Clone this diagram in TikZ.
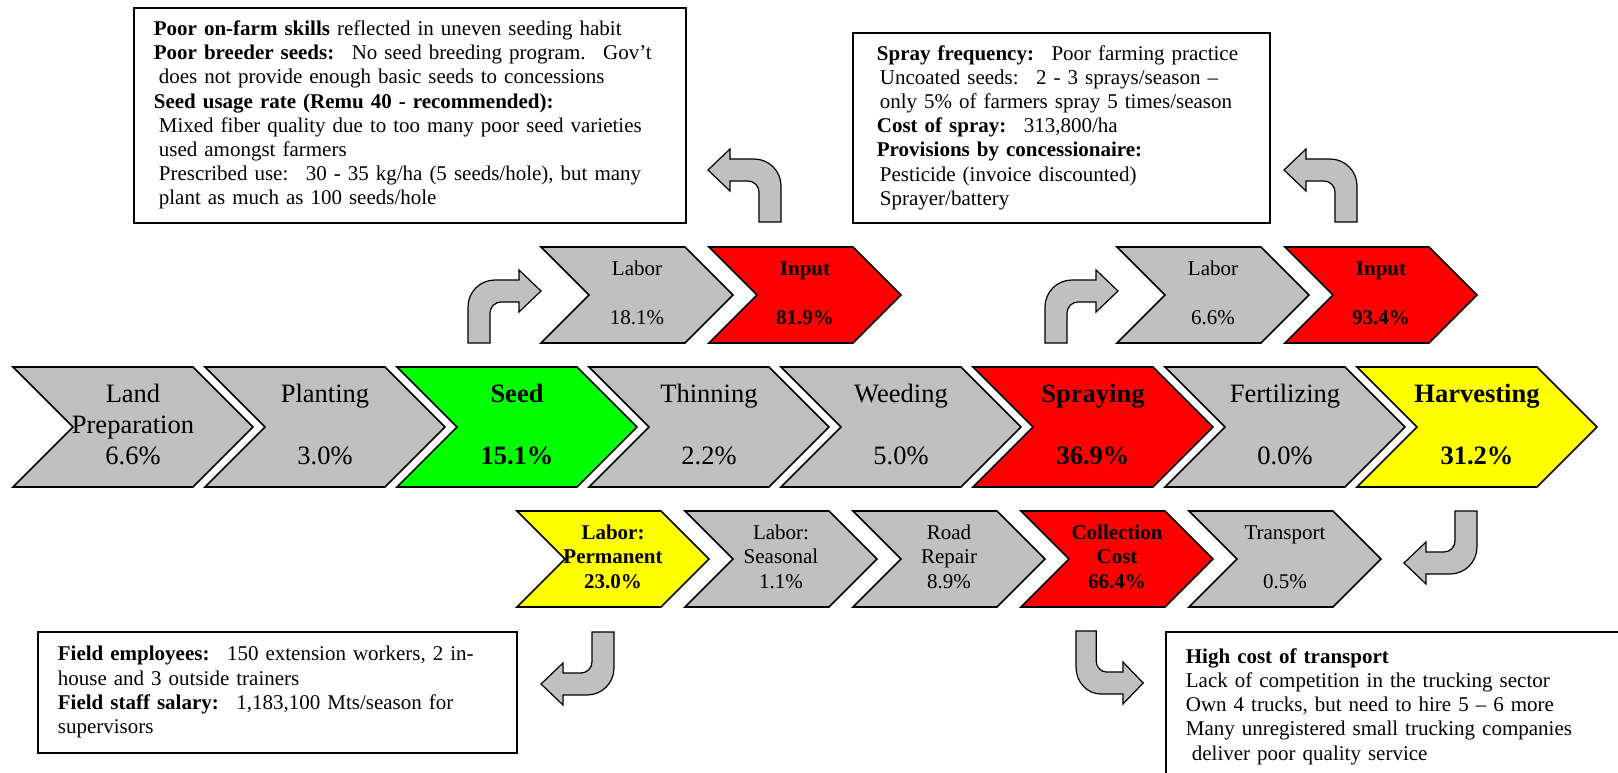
\documentclass[tikz,border=0pt]{standalone}
\usepackage{fontspec}
\setmainfont{Liberation Serif}

\definecolor{stepgray}{RGB}{192,192,192}
\definecolor{stepred}{RGB}{255,0,0}
\definecolor{stepgreen}{RGB}{0,255,0}
\definecolor{stepyellow}{RGB}{255,255,0}

\newcommand{\three}[3]{\strut#1\\\strut#2\\\strut#3}
% fill, name, left x, top y, width, height, text style, text
\newcommand{\chevbox}[8]{%
  \draw[chevline, fill=#1] (#3,#4) -- ++({#5-#6/2},0) -- ++({#6/2},{#6/2})
    -- ++({-#6/2},{#6/2}) -- ++({-#5+#6/2},0) -- ++({#6/2},{-#6/2}) -- cycle;
  \node[#7] (#2) at ({#3+#5/2},{#4+#6/2}) {#8};
}

\tikzset{
  chevline/.style={draw, line width=1.6pt, line join=miter},
  bigtext/.style={font=\fontsize{26.5}{31}\selectfont, align=center, inner sep=0pt},
  bigbold/.style={bigtext, font=\fontsize{26.5}{31}\selectfont\bfseries},
  smalltext/.style={font=\fontsize{21}{24.5}\selectfont, align=center, inner sep=0pt},
  smallbold/.style={smalltext, font=\fontsize{21}{24.5}\selectfont\bfseries},
  note/.style={draw, line width=1.8pt, anchor=north west, align=left,
    inner xsep=20pt, inner ysep=0pt, font=\fontsize{21}{24.2}\selectfont},
  turnarrow/.style={draw, fill=stepgray, line width=1.2pt, line join=miter},
  bentarrow/.pic={
    \draw[turnarrow] (0,0) -- (0,-36) .. controls (0,-51) and (12,-63) .. (27,-63)
      -- (51,-63) -- (51,-73) -- (73,-52) -- (51,-31) -- (51,-41) -- (33,-41)
      .. controls (27,-41) and (22,-36) .. (22,-30) -- (22,0) -- cycle;
  }
}

\begin{document}
\begin{tikzpicture}[x=1pt, y=-1pt]
  \useasboundingbox (0,0) rectangle (1618,773);
  \fill[white] (0,0) rectangle (1618,773);
  \clip (0,0) rectangle (1618,773);

  \chevbox{stepgray}{landprep}{13}{367}{240}{120}{bigtext}{\three{Land}{Preparation}{6.6\%}}
  \chevbox{stepgray}{planting}{205}{367}{240}{120}{bigtext}{\three{Planting}{}{3.0\%}}
  \chevbox{stepgreen}{seed}{397}{367}{240}{120}{bigbold}{\three{Seed}{}{15.1\%}}
  \chevbox{stepgray}{thinning}{589}{367}{240}{120}{bigtext}{\three{Thinning}{}{2.2\%}}
  \chevbox{stepgray}{weeding}{781}{367}{240}{120}{bigtext}{\three{Weeding}{}{5.0\%}}
  \chevbox{stepred}{spraying}{973}{367}{240}{120}{bigbold}{\three{Spraying}{}{36.9\%}}
  \chevbox{stepgray}{fertilizing}{1165}{367}{240}{120}{bigtext}{\three{Fertilizing}{}{0.0\%}}
  \chevbox{stepyellow}{harvesting}{1357}{367}{240}{120}{bigbold}{\three{Harvesting}{}{31.2\%}}

  \chevbox{stepgray}{seedlabor}{541}{247}{192}{96}{smalltext}{\three{Labor}{}{18.1\%}}
  \chevbox{stepred}{seedinput}{709}{247}{192}{96}{smallbold}{\three{Input}{}{81.9\%}}
  \chevbox{stepgray}{spraylabor}{1117}{247}{192}{96}{smalltext}{\three{Labor}{}{6.6\%}}
  \chevbox{stepred}{sprayinput}{1285}{247}{192}{96}{smallbold}{\three{Input}{}{93.4\%}}

  \chevbox{stepyellow}{permlabor}{517}{511}{192}{96}{smallbold}{\three{Labor:}{Permanent}{23.0\%}}
  \chevbox{stepgray}{seaslabor}{685}{511}{192}{96}{smalltext}{\three{Labor:}{Seasonal}{1.1\%}}
  \chevbox{stepgray}{roadrepair}{853}{511}{192}{96}{smalltext}{\three{Road}{Repair}{8.9\%}}
  \chevbox{stepred}{collection}{1021}{511}{192}{96}{smallbold}{\three{Collection}{Cost}{66.4\%}}
  \chevbox{stepgray}{transport}{1189}{511}{192}{96}{smalltext}{\three{Transport}{}{0.5\%}}

  \pic (seedup) at (468,343) {bentarrow};
  \pic (sprayup) at (1045,343) {bentarrow};
  \pic[xscale=-1] (seedout) at (781,222) {bentarrow};
  \pic[xscale=-1] (sprayout) at (1357,222) {bentarrow};
  \pic[xscale=-1, yscale=-1] (harvdown) at (1477,511) {bentarrow};
  \pic[xscale=-1, yscale=-1] (permout) at (614,632) {bentarrow};
  \pic[xscale=0.92, yscale=-1] (collout) at (1076,631) {bentarrow};

  \node[note, text width=512pt, minimum height=215pt] (seednote) at (133,7) {%
    \strut\textbf{Poor on-farm skills} reflected in uneven seeding habit\\
    \textbf{Poor breeder seeds:}~ No seed breeding program.~ Gov’t\\
    \hspace*{5pt}does not provide enough basic seeds to concessions\\
    \textbf{Seed usage rate (Remu 40 - recommended):}\\
    \hspace*{5pt}Mixed fiber quality due to too many poor seed varieties\\
    \hspace*{5pt}used amongst farmers\\
    \hspace*{5pt}Prescribed use:~ 30 - 35 kg/ha (5 seeds/hole), but many\\
    \hspace*{5pt}plant as much as 100 seeds/hole\strut};
  \node[note, text width=369pt, minimum height=190pt, inner xsep=24pt] (spraynote) at (852,32) {%
    \strut\textbf{Spray frequency:}~ Poor farming practice\\
    \hspace*{3pt}Uncoated seeds:~ 2 - 3 sprays/season --\\
    \hspace*{3pt}only 5\% of farmers spray 5 times/season\\
    \textbf{Cost of spray:}~ 313,800/ha\\
    \textbf{Provisions by concessionaire:}\\
    \hspace*{3pt}Pesticide (invoice discounted)\\
    \hspace*{3pt}Sprayer/battery\strut};
  \node[note, text width=439pt, minimum height=121pt] (staffnote) at (37,631) {%
    \strut\textbf{Field employees:}~ 150 extension workers, 2 in-\\
    house and 3 outside trainers\\
    \textbf{Field staff salary:}~ 1,183,100 Mts/season for\\
    supervisors\strut};
  \node[note, text width=440pt, minimum height=150pt] (transnote) at (1165,631) {%
    \strut\textbf{High cost of transport}\\
    Lack of competition in the trucking sector\\
    Own 4 trucks, but need to hire 5 -- 6 more\\
    Many unregistered small trucking companies\\
    \hspace*{6pt}deliver poor quality service\strut};
\end{tikzpicture}
\end{document}
